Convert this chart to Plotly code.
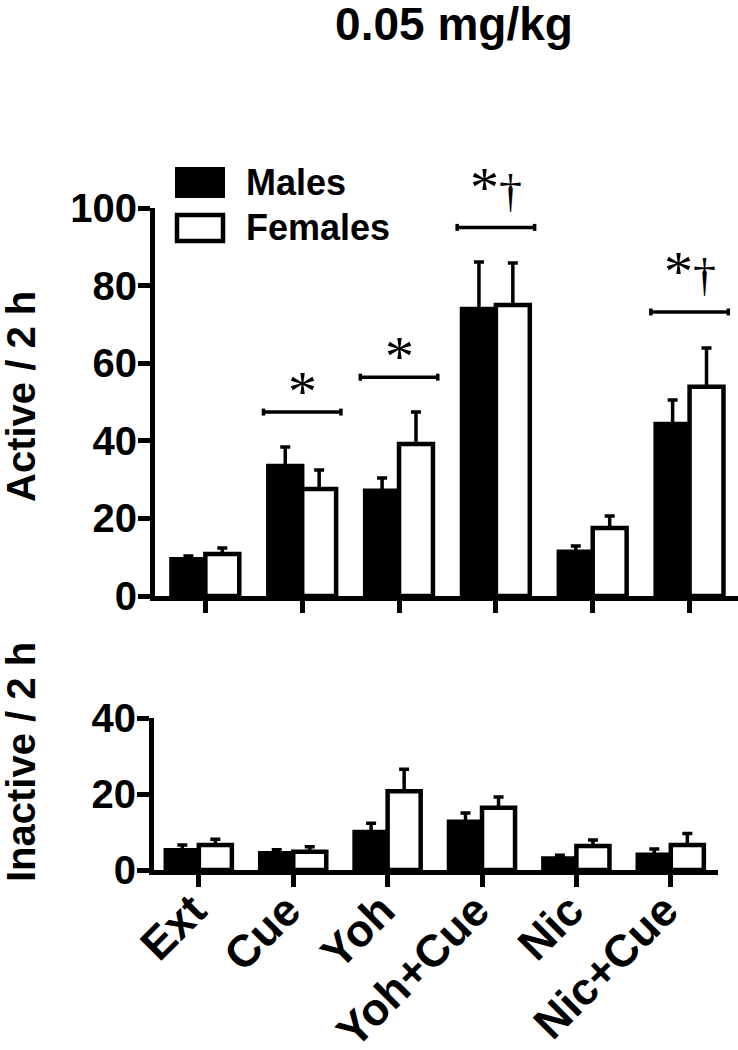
import plotly.graph_objects as go

# ---------------- data ----------------
categories = ["Ext", "Cue", "Yoh", "Yoh+Cue", "Nic", "Nic+Cue"]

active_males = [9.5, 33.5, 27.1, 74.0, 11.4, 44.3]
active_males_sem = [0.8, 4.9, 3.3, 12.1, 1.5, 6.2]
active_females = [10.8, 27.6, 39.2, 75.0, 17.5, 53.9]
active_females_sem = [1.6, 4.9, 8.2, 10.8, 3.1, 10.0]

inactive_males = [5.2, 4.4, 10.0, 12.7, 3.0, 4.0]
inactive_males_sem = [1.4, 0.9, 2.3, 2.3, 0.9, 1.5]
inactive_females = [6.6, 4.8, 20.7, 16.4, 6.3, 6.6]
inactive_females_sem = [1.5, 1.3, 5.8, 2.8, 1.6, 3.0]

bracket_groups = ["Cue", "Yoh", "Yoh+Cue", "Nic+Cue"]
bracket_heights = [47.4, 56.4, 95.0, 73.2]
bracket_labels = ["*", "*", "*†", "*†"]

active_ticks = [0, 20, 40, 60, 80, 100]
inactive_ticks = [0, 20, 40]

title_text = "0.05 mg/kg"
series_names = ["Males", "Females"]

# ---------------- figure ----------------
W, H = 738, 1050
FONT = "Liberation Sans, Arial, sans-serif"
SERIF = "Liberation Serif, Times New Roman, serif"
BAR_LINE = 4.5

fig = go.Figure()


def add_bars(vals, sems, color, name, xa, ya):
    fig.add_trace(go.Bar(
        x=categories, y=vals, name=name,
        marker=dict(color=color, line=dict(color="black", width=BAR_LINE)),
        error_y=dict(type="data", symmetric=False, array=sems,
                     arrayminus=[0] * len(sems), color="black",
                     thickness=3.5, width=5),
        xaxis=xa, yaxis=ya, showlegend=False,
    ))


add_bars(active_males, active_males_sem, "black", series_names[0], "x", "y")
add_bars(active_females, active_females_sem, "white", series_names[1], "x", "y")
add_bars(inactive_males, inactive_males_sem, "black", series_names[0], "x2", "y2")
add_bars(inactive_females, inactive_females_sem, "white", series_names[1], "x2", "y2")


def star_markup(lab):
    # bigger asterisk, normal dagger
    return "".join(
        "<span style='font-size:58px'>*</span>" if ch == "*" else ch for ch in lab
    )


# significance brackets
shapes = []
annotations = []
for g, h, lab in zip(bracket_groups, bracket_heights, bracket_labels):
    i = categories.index(g)
    ln = dict(color="black", width=3.5)
    shapes.append(dict(type="line", xref="x", yref="y", x0=i - 0.4, x1=i + 0.4,
                       y0=h, y1=h, line=ln))
    for xe in (i - 0.4, i + 0.4):
        shapes.append(dict(type="line", xref="x", yref="y", x0=xe, x1=xe,
                           y0=h - 0.9, y1=h + 0.9, line=ln))
    annotations.append(dict(
        x=g, y=h, xref="x", yref="y", text=star_markup(lab), showarrow=False,
        xanchor="center", yanchor="middle",
        yshift=21 if lab == "*" else 40,
        font=dict(family=SERIF, size=46, color="black"),
    ))

# legend (drawn as swatches + labels)
shapes.append(dict(type="rect", xref="paper", yref="paper",
                   x0=175 / W, x1=225 / W, y0=1 - 198 / H, y1=1 - 167 / H,
                   fillcolor="black", line=dict(color="black", width=0)))
shapes.append(dict(type="rect", xref="paper", yref="paper",
                   x0=177 / W, x1=223 / W, y0=1 - 241 / H, y1=1 - 215 / H,
                   fillcolor="white", line=dict(color="black", width=4.5)))
for txt, yc in ((series_names[0], 183), (series_names[1], 228)):
    annotations.append(dict(
        x=244 / W, y=1 - yc / H, xref="paper", yref="paper", text=txt,
        showarrow=False, xanchor="left", yanchor="middle",
        font=dict(family=FONT, size=36, color="black", weight="bold"),
    ))

# axis titles
for txt, yc in (("Active / 2 h", 397), ("Inactive / 2 h", 762)):
    annotations.append(dict(
        x=21 / W, y=1 - yc / H, xref="paper", yref="paper", text=txt,
        showarrow=False, textangle=-90, xanchor="center", yanchor="middle",
        borderpad=0,
        font=dict(family=FONT, size=40, color="black", weight="bold"),
    ))

axis_common = dict(showline=True, linewidth=5, linecolor="black",
                   ticks="outside", ticklen=12, tickwidth=5, tickcolor="black",
                   showgrid=False, zeroline=False, automargin=False)

fig.update_layout(
    width=W, height=H, autosize=False,
    margin=dict(l=0, r=0, t=0, b=0),
    paper_bgcolor="white", plot_bgcolor="white",
    barmode="group", bargap=0.3, bargroupgap=0,
    font=dict(family=FONT, color="black"),
    title=dict(text=title_text, x=454 / W, xanchor="center",
               y=0.993, yanchor="top", yref="container",
               font=dict(family=FONT, size=46, color="black", weight="bold")),
    xaxis=dict(domain=[155 / W, 1], range=[-0.52, 5.5], anchor="y",
               type="category", showticklabels=False, **axis_common),
    yaxis=dict(domain=[1 - 596 / H, 1 - 208 / H], range=[0, 100], anchor="x",
               tickvals=active_ticks, ticklabelstandoff=-7,
               tickfont=dict(family=FONT, size=40, color="black", weight="bold"),
               **axis_common),
    xaxis2=dict(domain=[154 / W, 718 / W], range=[-0.475, 5.5], anchor="y2",
                type="category", tickangle=-45, ticklabelstandoff=-21,
                ticklabelshift=-6,
                tickfont=dict(family=FONT, size=45, color="black", weight="bold"),
                **axis_common),
    yaxis2=dict(domain=[1 - 870 / H, 1 - 718 / H], range=[0, 40], anchor="x2",
                tickvals=inactive_ticks, ticklabelstandoff=-7,
                tickfont=dict(family=FONT, size=40, color="black", weight="bold"),
                **axis_common),
    shapes=shapes,
    annotations=annotations,
    showlegend=False,
)

fig.write_html("out.html",
               config={"displayModeBar": False},
               post_script="document.body.style.margin='0';")
